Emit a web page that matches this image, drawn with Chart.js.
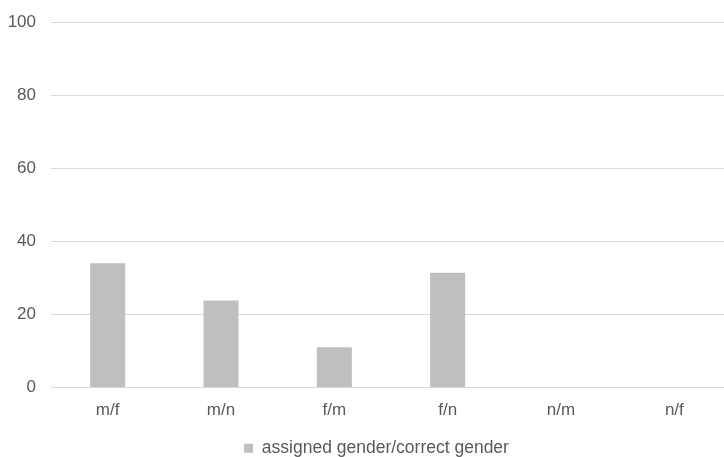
<!DOCTYPE html>
<html>
<head>
<meta charset="utf-8">
<script src="https://cdn.jsdelivr.net/npm/chart.js@4"></script>
<style>
  html, body { margin: 0; padding: 0; background: #ffffff; overflow: hidden; }
  #wrap { position: relative; width: 762px; height: 457px; }
</style>
</head>
<body>
<div id="wrap"><canvas id="chart"></canvas></div>
<script>
const categories = ['m/f', 'm/n', 'f/m', 'f/n', 'n/m', 'n/f'];
const seriesName = 'assigned gender/correct gender';
const seriesValues = [34.0, 23.8, 11.0, 31.4, 0, 0];
const yTicks = [0, 20, 40, 60, 80, 100];

const textColor = '#595959';
const gridColor = '#d9d9d9';
const barColor = '#bfbfbf';
const fontFamily = 'Arial, "Liberation Sans", sans-serif';

// Nudges the bottom legend a little to the right of the canvas centre.
const legendShift = {
  id: 'legendShift',
  afterLayout(chart) {
    if (chart.legend) {
      chart.legend.left += 11;
      chart.legend.right += 11;
    }
  }
};

new Chart(document.getElementById('chart'), {
  type: 'bar',
  data: {
    labels: categories,
    datasets: [{
      label: seriesName,
      data: seriesValues,
      backgroundColor: barColor,
      borderWidth: 0,
      inflateAmount: 0,
      barThickness: 35
    }]
  },
  plugins: [legendShift],
  options: {
    responsive: true,
    maintainAspectRatio: false,
    animation: false,
    layout: { padding: { top: 22, right: 31, bottom: -10, left: 0 } },
    plugins: {
      legend: {
        position: 'bottom',
        labels: {
          boxWidth: 9,
          boxHeight: 9,
          padding: 0,
          color: textColor,
          font: { family: fontFamily, size: 17.5, lineHeight: 1 }
        }
      },
      tooltip: { enabled: false }
    },
    scales: {
      x: {
        afterFit: (scale) => { scale.height = 52; },
        grid: { display: false, drawTicks: false },
        border: { display: false },
        ticks: {
          color: textColor,
          padding: 13,
          font: { family: fontFamily, size: 17 }
        }
      },
      y: {
        min: yTicks[0],
        max: yTicks[yTicks.length - 1],
        afterBuildTicks: (scale) => { scale.ticks = yTicks.map(v => ({ value: v })); },
        afterFit: (scale) => {
          scale.width = 51;
          scale.paddingTop = 0;
          scale.paddingBottom = 0;
        },
        grid: { color: gridColor, lineWidth: 1, drawTicks: false },
        border: { display: false },
        ticks: {
          color: textColor,
          padding: 15,
          font: { family: fontFamily, size: 17 }
        }
      }
    }
  }
});
</script>
</body>
</html>
